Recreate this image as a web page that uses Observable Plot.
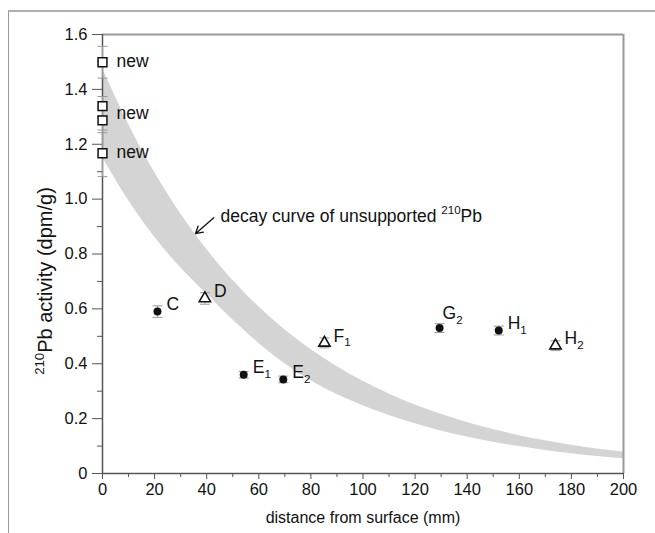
<!DOCTYPE html>
<html><head><meta charset="utf-8">
<script src="https://cdn.jsdelivr.net/npm/d3@7"></script>
<script src="https://cdn.jsdelivr.net/npm/@observablehq/plot@0.6"></script>
<style>
body{margin:0;background:#fff}
#wrap{position:relative;width:655px;height:533px}
#frame{position:absolute;left:8px;top:10px;right:0;bottom:0;border-top:2px solid #b0b0b0;border-left:1px solid #999;pointer-events:none}
</style>
</head><body><div id="wrap"><div id="frame"></div></div>
<script>
// ---- data ----
const newX = [0, 0, 0, 0];
const newY = [1.499, 1.339, 1.287, 1.167];
const newErr = [0.058, 0.035, 0.045, 0.085];
const newLabelY = [1.503, 1.313, 1.171];
const newLabels = ["new", "new", "new"];

const dotNames = ["C", "E_{1}", "E_{2}", "G_{2}", "H_{1}"];
const dotX = [21.1, 54.2, 69.4, 129.4, 152.1];
const dotY = [0.590, 0.360, 0.343, 0.530, 0.521];
const dotErr = [0.021, 0.012, 0.012, 0.016, 0.016];

const triNames = ["D", "F_{1}", "H_{2}"];
const triX = [39.3, 85.2, 173.9];
const triY = [0.638, 0.476, 0.466];
const triErr = [0.021, 0.018, 0.018];

// decay band edges
const bandX  = [0, 10, 20, 30, 40, 50, 60, 70, 80, 90, 100, 110, 120, 130, 140, 150, 160, 170, 180, 190, 200];
const bandHi = [1.476, 1.273, 1.098, 0.947, 0.817, 0.704, 0.608, 0.524, 0.452, 0.390, 0.336, 0.290, 0.250, 0.216, 0.186, 0.160, 0.138, 0.119, 0.103, 0.089, 0.078];
const bandLo = [1.152, 0.995, 0.862, 0.750, 0.655, 0.560, 0.475, 0.400, 0.338, 0.288, 0.247, 0.211, 0.181, 0.155, 0.133, 0.114, 0.098, 0.084, 0.072, 0.062, 0.054];

const arrowFrom = [42.7, 0.932];
const arrowTo = [35.7, 0.874];
const noteAt = [45.3, 0.938];
const noteText = "decay curve of unsupported ^{210}Pb";

const xMajor = [0, 20, 40, 60, 80, 100, 120, 140, 160, 180, 200];
const xMinor = [10, 30, 50, 70, 90, 110, 130, 150, 170, 190];
const yMajor = [0, 0.2, 0.4, 0.6, 0.8, 1.0, 1.2, 1.4, 1.6];
const yMinor = [0.1, 0.3, 0.5, 0.7, 0.9, 1.1, 1.3, 1.5];
const xTitle = "distance from surface (mm)";
const yTitle = "^{210}Pb activity (dpm/g)";

// ---- tables ----
const band = bandX.map((x, i) => ({x, hi: bandHi[i], lo: bandLo[i]}));
const squares = newY.map((y, i) => ({x: newX[i], y, e: newErr[i]}));
const newLab = newLabelY.map((y, i) => ({x: 0, y, t: newLabels[i]}));
const dots = dotX.map((x, i) => ({x, y: dotY[i], e: dotErr[i], t: dotNames[i]}));
const tris = triX.map((x, i) => ({x, y: triY[i], e: triErr[i], t: triNames[i]}));
const allErr = [...squares, ...dots, ...tris];

const cap = {draw(ctx, size) { const w = Math.sqrt(size / Math.PI); ctx.moveTo(-w, 0); ctx.lineTo(w, 0); }};
const FONT = "'Liberation Sans', Arial, Helvetica, sans-serif";
const errCol = "#9a9a9a";
const ink = "#111";

const chart = Plot.plot({
  width: 655, height: 533,
  marginLeft: 102, marginRight: 32, marginTop: 34, marginBottom: 60,
  x: {domain: [0, 200]},
  y: {domain: [0, 1.6]},
  style: {fontFamily: FONT, fontSize: "16.5px", color: "#222", background: "transparent"},
  marks: [
    Plot.areaY(band, {x: "x", y1: "lo", y2: "hi", curve: "natural", fill: "#d4d4d4"}),
    Plot.ruleY([1.6], {stroke: "#9a9a9a", strokeWidth: 2}),
    Plot.ruleX([200], {stroke: "#9a9a9a", strokeWidth: 2}),
    Plot.axisX({ticks: xMajor, tickSize: 6, tickPadding: 4, label: null, stroke: "#555", fontSize: 16.5, fill: ink}),
    Plot.axisX({ticks: xMinor, tickSize: 4, tickFormat: () => "", label: null, stroke: "#555"}),
    Plot.axisY({ticks: yMajor, tickSize: 10, tickPadding: 5, label: null, stroke: "#555", fontSize: 16.5, fill: ink,
      tickFormat: d => d === 0 ? "0" : d.toFixed(1)}),
    Plot.axisY({ticks: yMinor, tickSize: 5, tickFormat: () => "", label: null, stroke: "#555"}),
    Plot.ruleX([0], {stroke: "#555", strokeWidth: 1.5}),
    Plot.ruleY([0], {stroke: "#555", strokeWidth: 1.5}),
    // error bars
    Plot.ruleX(allErr, {x: "x", y1: d => d.y - d.e, y2: d => d.y + d.e, stroke: errCol, strokeWidth: 1}),
    Plot.dot(allErr, {x: "x", y: d => d.y + d.e, symbol: cap, r: 5, stroke: errCol, strokeWidth: 1}),
    Plot.dot(allErr, {x: "x", y: d => d.y - d.e, symbol: cap, r: 5, stroke: errCol, strokeWidth: 1}),
    // markers
    Plot.dot(squares, {x: "x", y: "y", symbol: "square", r: 5, stroke: ink, strokeWidth: 1.5, fill: "white"}),
    Plot.dot(tris, {x: "x", y: "y", symbol: "triangle", r: 4.2, stroke: ink, strokeWidth: 1.6, fill: "white"}),
    Plot.dot(dots, {x: "x", y: "y", r: 4, fill: ink, stroke: "none"}),
    // labels
    Plot.text(newLab, {x: "x", y: "y", text: "t", dx: 14, textAnchor: "start", fontSize: 17.5, fill: ink}),
    Plot.text([...dots.filter(d => d.t !== "G_{2}"), ...tris], {x: "x", y: "y", text: "t", dx: 9, dy: -7, textAnchor: "start", fontSize: 17.5, fill: ink}),
    Plot.text(dots.filter(d => d.t === "G_{2}"), {x: "x", y: "y", text: "t", dx: 3, dy: -15, textAnchor: "start", fontSize: 17.5, fill: ink}),
    // annotation
    Plot.arrow([{a: arrowFrom, b: arrowTo}], {x1: d => d.a[0], y1: d => d.a[1], x2: d => d.b[0], y2: d => d.b[1],
      bend: 0, stroke: ink, strokeWidth: 1.3, headLength: 11}),
    Plot.text([noteText], {x: () => noteAt[0], y: () => noteAt[1], text: d => d, textAnchor: "start", fontSize: 17.5, fill: ink}),
    // axis titles
    Plot.text([xTitle], {frameAnchor: "bottom", text: d => d, dy: 44, textAnchor: "middle", lineAnchor: "middle", fontSize: 16, fill: ink}),
    Plot.text([yTitle], {frameAnchor: "left", text: d => d, rotate: -90, dx: -57, dy: 27, textAnchor: "middle", lineAnchor: "middle", fontSize: 20, fill: ink})
  ]
});

const wrap = document.getElementById("wrap");
wrap.insertBefore(chart, wrap.firstChild);

// sub/superscript rendering
const NS = "http://www.w3.org/2000/svg";
chart.querySelectorAll("text").forEach(t => {
  const s = t.textContent;
  if (!/[_^]\{/.test(s)) return;
  const fs = parseFloat(getComputedStyle(t).fontSize) || 15;
  t.textContent = "";
  let cur = 0;
  const add = (str, kind) => {
    if (!str) return;
    const ts = document.createElementNS(NS, "tspan");
    ts.textContent = str;
    let target = 0;
    if (kind === "_") { target = 0.28 * fs; ts.setAttribute("font-size", (0.66 * fs) + "px"); }
    if (kind === "^") { target = -0.42 * fs; ts.setAttribute("font-size", (0.66 * fs) + "px"); }
    if (target !== cur) ts.setAttribute("dy", (target - cur) + "px");
    cur = target;
    t.appendChild(ts);
  };
  const re = /([_^])\{([^}]*)\}/g;
  let last = 0, m;
  while ((m = re.exec(s))) {
    add(s.slice(last, m.index), null);
    add(m[2], m[1]);
    last = re.lastIndex;
  }
  add(s.slice(last), null);
});
</script>
</body></html>
